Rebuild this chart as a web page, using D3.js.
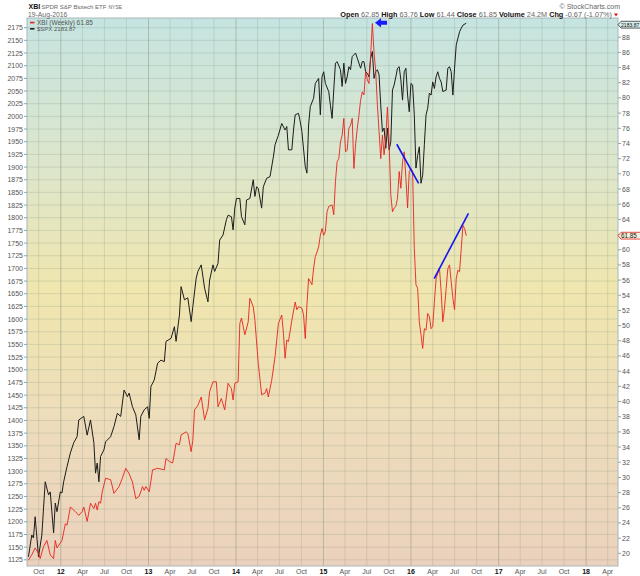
<!DOCTYPE html>
<html>
<head>
<meta charset="utf-8">
<script src="https://cdnjs.cloudflare.com/ajax/libs/d3/7.8.5/d3.min.js"></script>
<style>
  body { margin: 0; background: #fff; }
  text { font-family: "Liberation Sans", Arial, sans-serif; }
</style>
</head>
<body>
<div id="chart"></div>
<script>
// weekly closes, week 0 = 19 Aug 2011
const firstWeek = new Date(2011, 7, 19);

const spxWeek = [0, 2, 3, 4, 6, 8, 9, 10, 12, 13, 15, 16, 17, 19, 20, 21, 23, 25, 27, 29, 30, 33, 35, 37, 39, 40, 41, 42, 43, 45, 46, 49, 51, 53, 55, 57, 59, 60, 62, 64, 66, 67, 69, 71, 72, 73, 75, 77, 79, 81, 82, 85, 87, 88, 90, 91, 93, 95, 97, 98, 100, 101, 103, 105, 107, 108, 110, 111, 113, 114, 116, 118, 119, 121, 122, 123, 124, 126, 127, 129, 130, 132, 134, 135, 136, 137, 139, 140, 142, 144, 146, 147, 149, 151, 153, 154, 155, 157, 158, 159, 161, 162, 163, 165, 166, 167, 168, 170, 171, 173, 174, 175, 176, 177, 179, 180, 181, 182, 183, 184, 186, 187, 188, 189, 190, 191, 192, 193, 195, 196, 198, 199, 200, 201, 202, 203, 204, 205, 206, 207, 208, 209, 210, 211, 212, 213, 214, 215, 216, 217, 218, 219, 220, 221, 222, 223, 224, 225, 226, 227, 228, 229, 230, 231, 232, 233, 234, 235, 236, 237, 238, 239, 240, 241, 242, 243, 244, 245, 246, 247, 249, 250, 251, 252, 253, 254, 255, 257, 258, 259, 261];
const spxClose = [1131, 1174, 1168, 1210, 1131, 1174, 1227, 1279, 1253, 1259, 1178, 1237, 1220, 1259, 1257, 1279, 1309, 1336, 1356, 1368, 1401, 1408, 1371, 1401, 1356, 1296, 1316, 1279, 1329, 1342, 1358, 1368, 1388, 1414, 1408, 1460, 1447, 1454, 1427, 1411, 1362, 1408, 1421, 1427, 1404, 1467, 1480, 1513, 1519, 1516, 1556, 1562, 1585, 1556, 1608, 1664, 1638, 1642, 1595, 1625, 1681, 1694, 1707, 1661, 1634, 1677, 1707, 1694, 1710, 1756, 1766, 1796, 1805, 1802, 1776, 1819, 1838, 1838, 1802, 1786, 1835, 1838, 1875, 1842, 1861, 1858, 1819, 1861, 1878, 1881, 1920, 1944, 1963, 1986, 1973, 1980, 1934, 1934, 1973, 2003, 2006, 1990, 1970, 1901, 1888, 1983, 2019, 2036, 2065, 2075, 2003, 2078, 2088, 2065, 2049, 2022, 1996, 2052, 2105, 2108, 2092, 2059, 2105, 2065, 2078, 2098, 2092, 2118, 2125, 2115, 2095, 2108, 2108, 2088, 2085, 2078, 2115, 2128, 2075, 2088, 2092, 2082, 2022, 1970, 1977, 1937, 1977, 1934, 1950, 2052, 2062, 2078, 2095, 2098, 2072, 2032, 2088, 2095, 2042, 2009, 2065, 2062, 2003, 1898, 1923, 1940, 1868, 1884, 1944, 2003, 2016, 2046, 2042, 2068, 2055, 2078, 2088, 2075, 2068, 2049, 2052, 2095, 2098, 2088, 2042, 2095, 2141, 2167, 2174, 2180, 2183.87];

const xbiWeek = [0, 2, 4, 6, 7, 9, 11, 13, 15, 16, 17, 20, 22, 23, 25, 28, 30, 32, 33, 35, 37, 39, 40, 41, 42, 43, 44, 46, 49, 51, 54, 56, 58, 60, 62, 64, 66, 68, 69, 70, 72, 74, 77, 81, 82, 84, 86, 88, 90, 91, 94, 95, 97, 98, 99, 101, 103, 105, 107, 108, 110, 112, 113, 115, 117, 119, 121, 122, 123, 125, 126, 127, 129, 131, 132, 134, 135, 137, 139, 141, 142, 143, 145, 147, 149, 151, 152, 153, 154, 155, 157, 159, 160, 161, 163, 164, 165, 166, 167, 168, 169, 170, 171, 172, 173, 174, 175, 176, 177, 178, 179, 181, 182, 183, 184, 185, 186, 187, 188, 189, 190, 191, 192, 193, 194, 195, 196, 197, 198, 199, 200, 201, 202, 203, 204, 205, 206, 207, 208, 209, 210, 211, 212, 213, 214, 215, 216, 217, 218, 219, 220, 221, 222, 223, 224, 225, 226, 227, 228, 229, 230, 231, 232, 233, 234, 235, 236, 237, 238, 239, 240, 241, 242, 243, 244, 245, 246, 247, 248, 249, 250, 251, 252, 253, 254, 255, 256, 257, 258, 259, 260, 261];
const xbiClose = [19.1, 19.8, 20.7, 20.0, 19.3, 20.9, 21.7, 19.8, 19.3, 21.7, 20.7, 21.7, 23.9, 23.7, 26.1, 25.5, 25.0, 25.5, 26.1, 24.2, 26.6, 25.9, 26.6, 25.7, 26.8, 26.6, 28.1, 29.9, 29.7, 27.9, 28.8, 29.9, 31.2, 30.5, 29.4, 27.2, 27.5, 28.8, 28.3, 28.8, 28.1, 31.0, 31.2, 31.0, 32.5, 32.1, 31.9, 34.5, 34.3, 35.6, 36.0, 35.8, 33.4, 34.9, 38.9, 39.5, 40.6, 37.6, 39.1, 41.3, 42.6, 42.6, 39.3, 40.4, 38.9, 42.4, 41.7, 40.2, 42.4, 42.6, 50.3, 51.0, 48.8, 50.5, 53.6, 52.5, 50.7, 45.0, 40.9, 41.1, 41.7, 40.6, 42.8, 45.9, 50.3, 51.4, 49.0, 45.7, 48.1, 47.9, 50.7, 53.1, 52.1, 52.5, 52.3, 51.4, 48.3, 52.7, 56.2, 55.8, 55.4, 57.6, 59.1, 59.7, 60.4, 61.9, 62.8, 61.9, 62.4, 65.0, 65.7, 65.9, 64.6, 69.0, 71.6, 72.0, 74.2, 75.1, 77.3, 72.9, 73.1, 76.0, 76.4, 77.3, 70.7, 73.8, 76.0, 77.7, 79.7, 80.8, 80.4, 83.5, 82.4, 81.9, 85.7, 89.8, 86.0, 83.5, 79.1, 75.6, 72.0, 75.1, 72.5, 74.7, 78.8, 74.0, 67.2, 65.0, 65.5, 65.7, 66.8, 70.3, 68.1, 71.6, 72.9, 69.4, 65.5, 70.3, 70.7, 70.3, 60.2, 55.4, 54.9, 50.5, 48.8, 47.0, 49.6, 49.4, 51.6, 51.2, 49.6, 49.9, 53.2, 56.2, 56.9, 57.6, 54.5, 50.5, 52.3, 54.9, 57.5, 58.0, 55.8, 53.6, 52.1, 56.2, 57.3, 57.1, 60.2, 63.2, 62.8, 61.85];

const leftTicks = d3.range(1125, 2176, 25);
const rightTicks = d3.range(20, 89, 2);
const quote = [["Open", "62.85"], ["High", "63.76"], ["Low", "61.44"], ["Close", "61.85"], ["Volume", "24.2M"], ["Chg", "-0.67 (-1.07%)"]];

// hand drawn annotations, [week, value]
const spxTrend = [[219.6, 1945], [232.6, 1868]];
const xbiTrend = [[241.9, 56.2], [262.4, 64.8]];
const arrowAt = [206.7, 89.9];

const w = 640;
const h = 576;
const pLeft = 27, pRight = 618, pTop = 18, pBottom = 566;

let x = d3
  .scaleTime()
  .domain([new Date(2011, 7, 13), new Date(2018, 4, 14)])
  .range([pLeft, pRight]);
let yL = d3.scaleLinear().domain([1112.8, 2194.1]).range([pBottom, pTop]);
let yR = d3.scaleLinear().domain([18.33, 90.53]).range([pBottom, pTop]);
let weekDate = k => d3.timeDay.offset(firstWeek, 7 * k);

let lastSpx = spxClose[spxClose.length - 1];
let lastXbi = xbiClose[xbiClose.length - 1];

let svg = d3
  .select("#chart")
  .append("svg")
  .attr("width", w)
  .attr("height", h);

let defs = svg.append("defs");
let grad = defs
  .append("linearGradient")
  .attr("id", "bg")
  .attr("x1", 0).attr("y1", 0).attr("x2", 0).attr("y2", 1);
[["0%", "#c5e4e1"], ["25%", "#dbe6cd"], ["50%", "#f0e6ae"], ["75%", "#eddcbb"], ["100%", "#ebd1bd"]].forEach(s =>
  grad.append("stop").attr("offset", s[0]).attr("stop-color", s[1])
);
defs
  .append("clipPath")
  .attr("id", "plot")
  .append("rect")
  .attr("x", pLeft).attr("y", pTop)
  .attr("width", pRight - pLeft).attr("height", pBottom - pTop);

svg
  .append("rect")
  .attr("x", pLeft).attr("y", pTop)
  .attr("width", pRight - pLeft).attr("height", pBottom - pTop)
  .attr("fill", "url(#bg)");

// grid
let xTicks = x.ticks(d3.timeMonth.every(3));
svg
  .selectAll("line.hgrid")
  .data(leftTicks)
  .enter()
  .append("line")
  .attr("class", "hgrid")
  .attr("x1", pLeft).attr("x2", pRight)
  .attr("y1", d => yL(d)).attr("y2", d => yL(d))
  .attr("stroke", "#8f9c88")
  .attr("stroke-opacity", 0.35)
  .attr("stroke-width", 0.8);
svg
  .selectAll("line.vgrid")
  .data(xTicks)
  .enter()
  .append("line")
  .attr("class", "vgrid")
  .attr("x1", d => x(d)).attr("x2", d => x(d))
  .attr("y1", pTop).attr("y2", pBottom)
  .attr("stroke", d => (d.getMonth() == 0 ? "#84917c" : "#8f9c88"))
  .attr("stroke-opacity", d => (d.getMonth() == 0 ? 0.6 : 0.35))
  .attr("stroke-width", 0.8);

svg
  .append("rect")
  .attr("x", pLeft).attr("y", pTop)
  .attr("width", pRight - pLeft).attr("height", pBottom - pTop)
  .attr("fill", "none")
  .attr("stroke", "#a7b8bc")
  .attr("stroke-width", 1);

// axes
svg
  .selectAll("text.ly")
  .data(leftTicks)
  .enter()
  .append("text")
  .attr("class", "ly")
  .attr("x", 23)
  .attr("y", d => yL(d) + 2.5)
  .attr("text-anchor", "end")
  .attr("font-size", 7)
  .attr("fill", "#555")
  .text(d => d);
svg
  .selectAll("line.lt")
  .data(leftTicks)
  .enter()
  .append("line")
  .attr("class", "lt")
  .attr("x1", 24).attr("x2", pLeft)
  .attr("y1", d => yL(d)).attr("y2", d => yL(d))
  .attr("stroke", "#8aa");
// the close tag hides the label under it
let rightShown = rightTicks.filter(d => Math.abs(yR(d) - yR(lastXbi)) > 6);
svg
  .selectAll("text.ry")
  .data(rightShown)
  .enter()
  .append("text")
  .attr("class", "ry")
  .attr("x", 622)
  .attr("y", d => yR(d) + 2.5)
  .attr("font-size", 7)
  .attr("fill", "#555")
  .text(d => d);
svg
  .selectAll("line.rt")
  .data(rightTicks)
  .enter()
  .append("line")
  .attr("class", "rt")
  .attr("x1", pRight).attr("x2", 621)
  .attr("y1", d => yR(d)).attr("y2", d => yR(d))
  .attr("stroke", "#8aa");
svg
  .selectAll("text.xt")
  .data(xTicks)
  .enter()
  .append("text")
  .attr("class", "xt")
  .attr("x", d => x(d))
  .attr("y", 574)
  .attr("text-anchor", "middle")
  .attr("font-size", 7)
  .attr("font-weight", d => (d.getMonth() == 0 ? "bold" : "normal"))
  .attr("fill", d => (d.getMonth() == 0 ? "#111" : "#555"))
  .text(d => (d.getMonth() == 0 ? d3.timeFormat("%y")(d) : d3.timeFormat("%b")(d)));

// series
let spx = spxWeek.map((k, i) => ({ date: weekDate(k), v: spxClose[i] }));
let xbi = xbiWeek.map((k, i) => ({ date: weekDate(k), v: xbiClose[i] }));
let g = svg.append("g").attr("clip-path", "url(#plot)");
g.append("path")
  .datum(spx)
  .attr("fill", "none")
  .attr("stroke", "#1c1c1c")
  .attr("stroke-width", 1)
  .attr("d", d3.line().x(d => x(d.date)).y(d => yL(d.v)));
g.append("path")
  .datum(xbi)
  .attr("fill", "none")
  .attr("stroke", "#e8231c")
  .attr("stroke-width", 0.9)
  .attr("d", d3.line().x(d => x(d.date)).y(d => yR(d.v)));

// annotations
g.append("line")
  .attr("x1", x(weekDate(spxTrend[0][0]))).attr("y1", yL(spxTrend[0][1]))
  .attr("x2", x(weekDate(spxTrend[1][0]))).attr("y2", yL(spxTrend[1][1]))
  .attr("stroke", "#1515f0").attr("stroke-width", 1.6);
g.append("line")
  .attr("x1", x(weekDate(xbiTrend[0][0]))).attr("y1", yR(xbiTrend[0][1]))
  .attr("x2", x(weekDate(xbiTrend[1][0]))).attr("y2", yR(xbiTrend[1][1]))
  .attr("stroke", "#1515f0").attr("stroke-width", 1.6);
let ax = x(weekDate(arrowAt[0]));
let ay = yR(arrowAt[1]);
svg
  .append("path")
  .attr("d", `M${ax},${ay} l6,-4.6 v2.6 h6 v4 h-6 v2.6 z`)
  .attr("fill", "#1a1aff");

// value tags on the right axis
let tag = (y, stroke, fill, label, size) => {
  svg
    .append("path")
    .attr("d", `M${pRight},${y} l3,-3.4 h22 v6.8 h-22 z`)
    .attr("fill", fill)
    .attr("stroke", stroke)
    .attr("stroke-width", 0.8);
  svg
    .append("text")
    .attr("x", 621)
    .attr("y", y + 2.1)
    .attr("font-size", size)
    .attr("fill", "#111")
    .text(label);
};
tag(yL(lastSpx) + 1.5, "#333", "#d7efee", "2183.87", 5.1);
tag(yR(lastXbi), "#e8231c", "#f3f0dc", "61.85", 6.3);

// legend
svg.append("line").attr("x1", 30).attr("x2", 34.5).attr("y1", 22.6).attr("y2", 22.6)
  .attr("stroke", "#e8231c").attr("stroke-width", 1.6);
svg.append("text").attr("x", 37).attr("y", 25)
  .attr("font-family", "DejaVu Sans Mono").attr("font-size", 6.5).attr("fill", "#555")
  .text("XBI (Weekly) 61.85");
svg.append("line").attr("x1", 30).attr("x2", 34.5).attr("y1", 28.8).attr("y2", 28.8)
  .attr("stroke", "#222").attr("stroke-width", 1.6);
svg.append("text").attr("x", 37).attr("y", 31)
  .attr("font-size", 6).attr("fill", "#555")
  .text("$SPX 2183.87");

// header
svg.append("text").attr("x", 28.5).attr("y", 9.3)
  .attr("font-size", 7).attr("font-weight", "bold").attr("fill", "#111").text("XBI");
svg.append("text").attr("x", 41.5).attr("y", 9)
  .attr("font-size", 6).attr("fill", "#666").text("SPDR S&P Biotech ETF");
svg.append("text").attr("x", 108.5).attr("y", 9)
  .attr("font-size", 5).attr("fill", "#666").text("NYSE");
svg.append("text").attr("x", 28).attr("y", 16.5)
  .attr("font-size", 6.8).attr("fill", "#666").text("19-Aug-2016");
svg.append("text").attr("x", 620).attr("y", 8.5).attr("text-anchor", "end")
  .attr("font-size", 7).attr("fill", "#666").text("© StockCharts.com");

let q = svg.append("text").attr("x", 612).attr("y", 16.5).attr("text-anchor", "end").attr("font-size", 7.3);
quote.forEach((p, i) => {
  q.append("tspan").attr("font-weight", "bold").attr("fill", "#111").text((i ? " " : "") + p[0]);
  q.append("tspan").attr("fill", "#666").text(" " + p[1]);
});
svg.append("path").attr("d", "M614,13.5 h4 l-2,3 z").attr("fill", "#d11");
</script>
</body>
</html>
